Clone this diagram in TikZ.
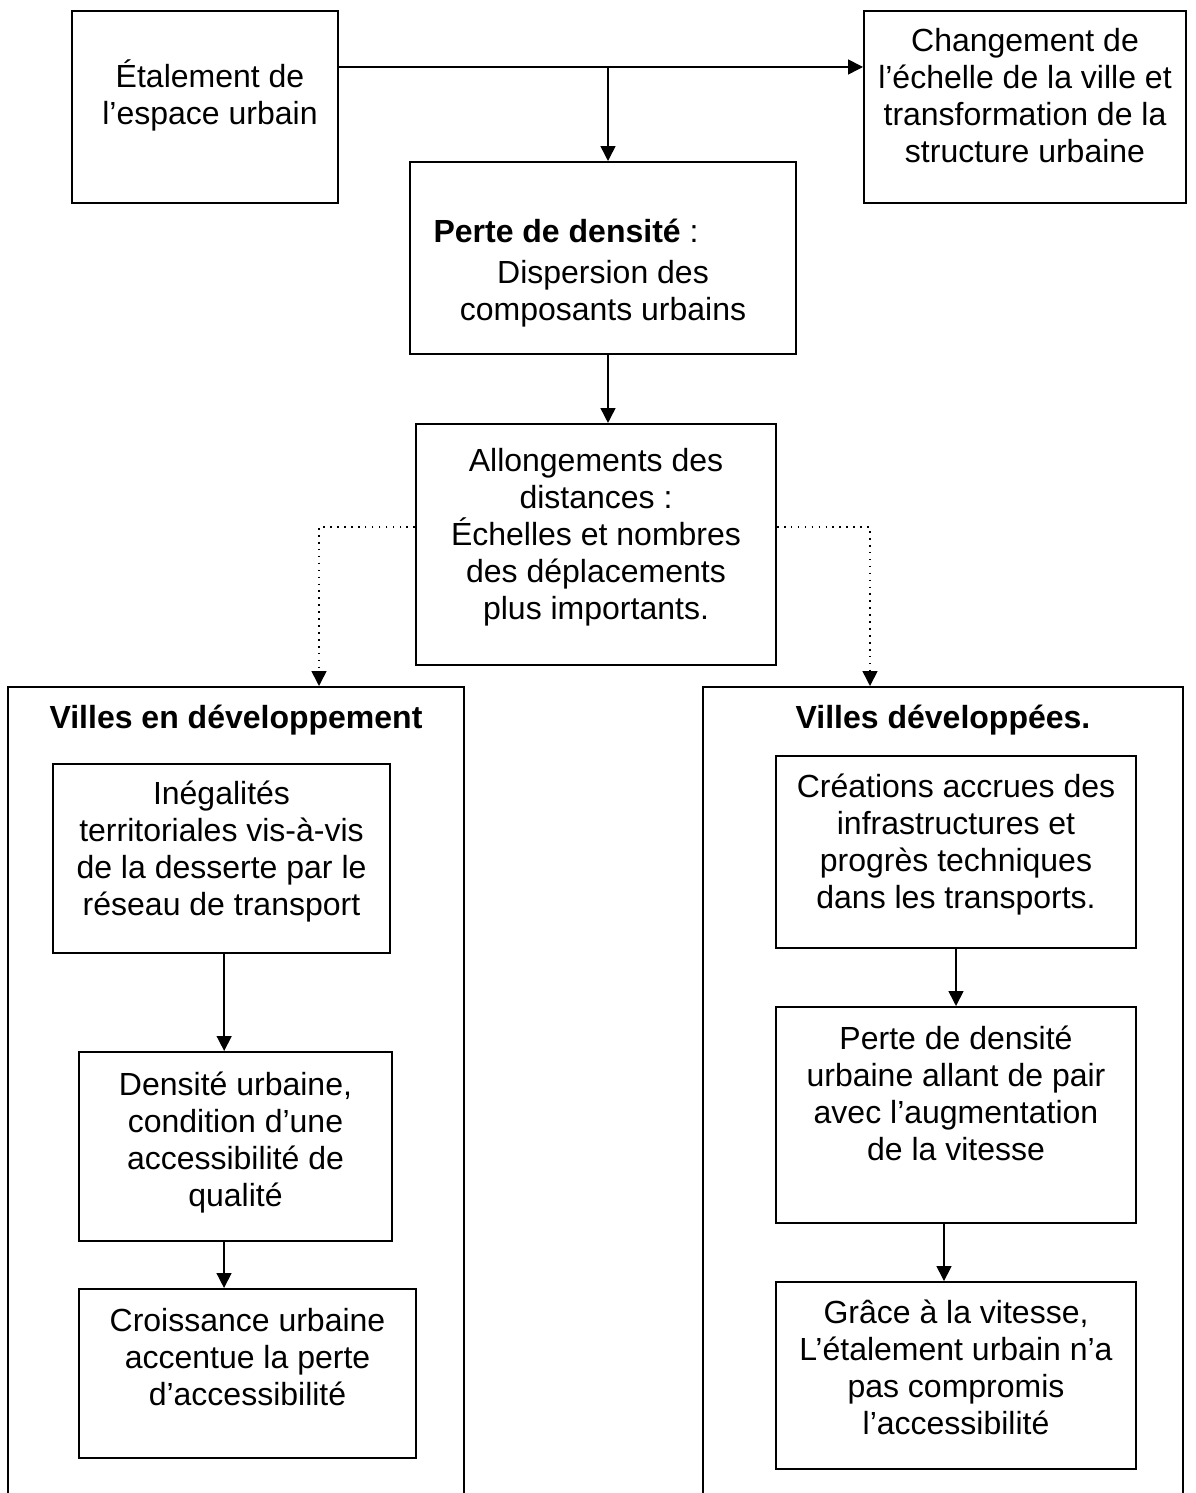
\documentclass[tikz,border=0pt]{standalone}
\usepackage{fontspec}
\setmainfont{Liberation Sans}
\usetikzlibrary{arrows.meta}

\begin{document}
\begin{tikzpicture}[x=0.375pt, y=-0.375pt,
  cadre/.style={draw, line width=0.75pt, inner sep=0pt},
  texte/.style={anchor=north, inner sep=0pt, align=center, font=\fontsize{12}{13.9}\selectfont},
  fleche/.style={-{Triangle[length=5.6pt,width=5.6pt]}, line width=0.6pt},
  pointille/.style={fleche, dotted}]
\useasboundingbox (0,0) rectangle (1195,1493);
\clip (0,0) rectangle (1195,1493);

\node[cadre, minimum width=99.75pt, minimum height=72pt] (etal) at (205,107) {};
\node[cadre, minimum width=120.75pt, minimum height=72pt] (chang) at (1025,107) {};
\node[cadre, minimum width=144.75pt, minimum height=72pt] (perte) at (603,258) {};
\node[cadre, minimum width=135pt, minimum height=90.4pt] (allong) at (596,544.5) {};
\node[cadre, anchor=north, minimum width=171pt, minimum height=337.5pt] (dev) at (236,686) {};
\node[cadre, anchor=north, minimum width=180pt, minimum height=337.5pt] (devd) at (943,686) {};
\node[cadre, minimum width=126.4pt, minimum height=70.9pt] (ineg) at (221.5,858.5) {};
\node[cadre, minimum width=117.4pt, minimum height=70.9pt] (dens) at (235.5,1146.5) {};
\node[cadre, minimum width=126.4pt, minimum height=63.4pt] (crois) at (247.5,1373.5) {};
\node[cadre, minimum width=135pt, minimum height=72pt] (creat) at (956,852) {};
\node[cadre, minimum width=135pt, minimum height=81pt] (pertd) at (956,1115) {};
\node[cadre, minimum width=135pt, minimum height=70.1pt] (grace) at (956,1375.5) {};

\node[texte] (etal-t) at (210,59) {Étalement de\\l’espace urbain};
\node[texte] (chang-t) at (1025,28) {Changement de\\l’échelle de la ville et\\transformation de la\\structure urbaine};
\node[texte, anchor=north west] (perte-t) at (433,219) {\textbf{Perte de densité} :};
\node[texte] (disp-t) at (603,260) {Dispersion des\\composants urbains};
\node[texte] (allong-t) at (596,448) {Allongements des\\distances :\\Échelles et nombres\\des déplacements\\plus importants.};
\node[texte] (dev-t) at (236,704) {\textbf{Villes en développement}};
\node[texte] (devd-t) at (943,704) {\textbf{Villes développées.}};
\node[texte] (ineg-t) at (221.5,780) {Inégalités\\territoriales vis-à-vis\\de la desserte par le\\réseau de transport};
\node[texte] (dens-t) at (235.5,1071) {Densité urbaine,\\condition d’une\\accessibilité de\\qualité};
\node[texte] (crois-t) at (247.5,1308) {Croissance urbaine\\accentue la perte\\d’accessibilité};
\node[texte] (creat-t) at (956,773) {Créations accrues des\\infrastructures et\\progrès techniques\\dans les transports.};
\node[texte] (pertd-t) at (956,1025) {Perte de densité\\urbaine allant de pair\\avec l’augmentation\\de la vitesse};
\node[texte] (grace-t) at (956,1299) {Grâce à la vitesse,\\L’étalement urbain n’a\\pas compromis\\l’accessibilité};

\coordinate (j) at (608,67);
\coordinate (g) at (319,527);
\coordinate (d) at (870,527);
\draw[fleche] (etal.east |- j) -- (chang.west |- j);
\draw[fleche] (j) -- (j |- perte.north);
\draw[fleche] (perte.south -| j) -- (allong.north -| j);
\draw[pointille] (allong.west |- g) -| (dev.north -| g);
\draw[pointille] (allong.east |- d) -| (devd.north -| d);
\draw[fleche] ([xshift=1pt]ineg.south) -- ([xshift=1pt]ineg.south |- dens.north);
\draw[fleche] ([xshift=-4.3pt]dens.south) -- ([xshift=-4.3pt]dens.south |- crois.north);
\draw[fleche] (creat.south) -- (creat.south |- pertd.north);
\draw[fleche] ([xshift=-4.5pt]pertd.south) -- ([xshift=-4.5pt]pertd.south |- grace.north);
\end{tikzpicture}
\end{document}
